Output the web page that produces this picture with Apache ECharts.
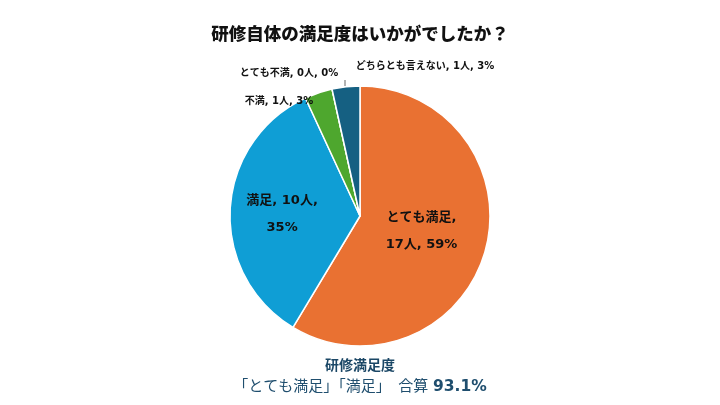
<!DOCTYPE html>
<html>
<head>
<meta charset="utf-8">
<script src="https://cdn.jsdelivr.net/npm/echarts@6/dist/echarts.min.js"></script>
<style>
  html, body { margin: 0; padding: 0; background: #fff; }
  #main { width: 720px; height: 405px; }
</style>
</head>
<body>
<div id="main"></div>
<script>
var categories = ['とても満足', '満足', '不満', 'とても不満', 'どちらとも言えない'];
var counts = [17, 10, 1, 0, 1];
var percents = [59, 35, 3, 0, 3];
var colors = ['#E97132', '#0F9ED5', '#4EA72E', '#196B24', '#156082'];
// label placement tweaks: outside labels get a centre, inside ones a nudge
var outsideLabelPos = { 2: [279, 101], 3: [289, 73], 4: [425, 66] };
var insideNudge = { 0: [-4, -3], 1: [-10, 2] };

var total = counts.reduce(function (a, b) { return a + b; }, 0);
var satisfied = ((counts[0] + counts[1]) / total * 100).toFixed(1);

var font = '"DejaVu Sans", "Noto Sans CJK JP", sans-serif';

var pieData = categories.map(function (name, i) {
  var item = { name: name, value: counts[i], itemStyle: { color: colors[i] } };
  var txt = name + ', ' + counts[i] + '人, ' + percents[i] + '%';
  if (i === 0) txt = name + ',\n' + counts[i] + '人, ' + percents[i] + '%';
  if (i === 1) txt = name + ', ' + counts[i] + '人,\n' + percents[i] + '%';
  if (i < 2) {
    item.label = { position: 'inside', formatter: txt, fontSize: 13, lineHeight: 27 };
  } else {
    item.label = { position: 'outside', formatter: txt, fontSize: 10 };
    item.labelLine = { show: i === 3, lineStyle: { color: '#666', width: 1 } };
  }
  return item;
});

var myChart = echarts.init(document.getElementById('main'));
var option = {
  animation: false,
  title: {
    text: '研修自体の満足度はいかがでしたか？',
    left: 'center',
    top: 20,
    textStyle: { fontFamily: '"Noto Sans CJK JP", sans-serif', fontSize: 17.5, fontWeight: 900, color: '#111' }
  },
  graphic: [{
    type: 'text',
    left: 'center',
    top: 359,
    style: {
      text: '{b|研修満足度}',
      rich: { b: { fontFamily: font, fontSize: 14, fontWeight: 'bold', fill: '#1B4766' } }
    }
  }, {
    type: 'text',
    left: 'center',
    top: 379,
    style: {
      text: '{r|「とても満足」「満足」　合算 }{v|' + satisfied + '%}',
      rich: {
        r: { fontFamily: font, fontSize: 15, fill: '#1F4E6E' },
        v: { fontFamily: font, fontSize: 15.5, fontWeight: 'bold', fill: '#1F4E6E' }
      }
    }
  }],
  series: [{
    type: 'pie',
    center: [360, 216],
    radius: 130,
    startAngle: 90,
    clockwise: true,
    avoidLabelOverlap: false,
    itemStyle: { borderColor: '#fff', borderWidth: 1.5 },
    label: { color: '#111', fontFamily: font, fontWeight: 'bold' },
    labelLayout: function (params) {
      var i = params.dataIndex;
      var p = outsideLabelPos[i];
      if (p) {
        var res = { x: p[0], y: p[1], align: 'center', verticalAlign: 'middle' };
        if (i === 3) res.labelLinePoints = [[345, 86], [345, 80], [345, 80]];
        return res;
      }
      var n = insideNudge[i];
      return n ? { dx: n[0], dy: n[1] } : {};
    },
    data: pieData
  }]
};
myChart.setOption(option);
window.onresize = myChart.resize;
</script>
</body>
</html>
